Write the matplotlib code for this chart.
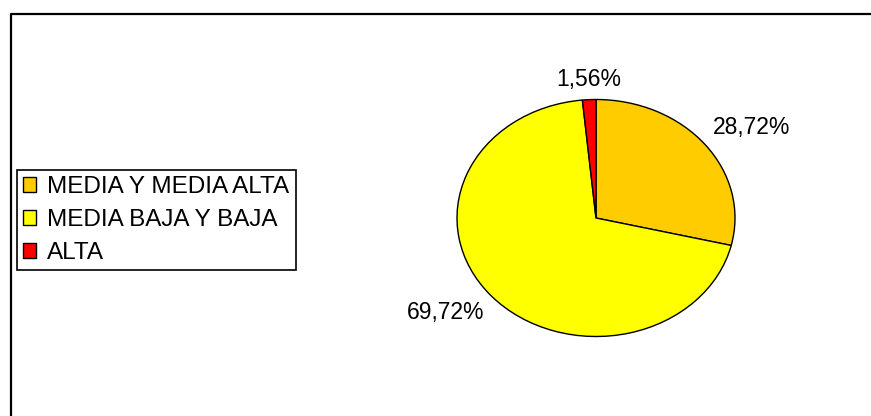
import numpy as np
import matplotlib
matplotlib.use("Agg")
import matplotlib.pyplot as plt
from matplotlib.lines import Line2D

plt.rcParams['font.family'] = ['Liberation Sans', 'DejaVu Sans']

categorias = ["MEDIA Y MEDIA ALTA", "MEDIA BAJA Y BAJA", "ALTA"]
porcentajes = [28.72, 69.72, 1.56]
colores = ["#FFCC00", "#FFFF00", "#FF0000"]

W, H = 871, 416
fig = plt.figure(figsize=(W / 100, H / 100), dpi=100)

# outer frame (left and top edges only)
fx = 11 / W
fy = 1 - 14 / H
fig.add_artist(Line2D([fx, fx, 1.0], [0.0, fy, fy], transform=fig.transFigure,
                      color="black", lw=1.6))

# pie axes: ellipse centred at (596, 218) px, radii 139 x 118.5 px
cx, cy = 596 / W, 1 - 218 / H
rx, ry = 139 / W, 118.5 / H
ax = fig.add_axes([cx - rx, cy - ry, 2 * rx, 2 * ry])
wedges, _ = ax.pie(porcentajes, colors=colores, startangle=90, counterclock=False,
                   wedgeprops=dict(edgecolor="black", linewidth=1.0))
ax.set_aspect("auto")
ax.set_xlim(-1, 1)
ax.set_ylim(-1, 1)
ax.axis("off")

# value labels outside each slice
d = 1.07
for w, p in zip(wedges, porcentajes):
    ang = np.deg2rad((w.theta1 + w.theta2) / 2)
    c, s = np.cos(ang), np.sin(ang)
    ha = "left" if c > 0.2 else ("right" if c < -0.2 else "center")
    va = "bottom" if s > 0 else "top"
    ax.text(d * c, d * s, f"{p:.2f}%".replace(".", ","), ha=ha, va=va,
            fontsize=16.5, clip_on=False)

leg = fig.legend(wedges, categorias, loc="upper left",
                 bbox_to_anchor=(17 / W, 1 - 170 / H), borderaxespad=0,
                 fontsize=17.5, frameon=True, fancybox=False, framealpha=1,
                 edgecolor="black", handlelength=0.55, handleheight=0.55,
                 handletextpad=0.45, labelspacing=0.45, borderpad=0.25)
leg.get_frame().set_linewidth(1.2)

fig.savefig("out.png", dpi=100)
